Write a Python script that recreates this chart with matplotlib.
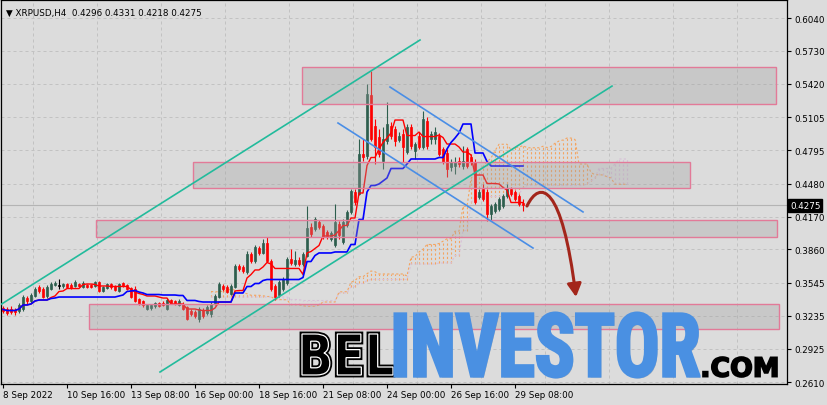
import matplotlib
matplotlib.use("Agg")
import matplotlib.pyplot as plt
import matplotlib.patheffects as pe
import numpy as np
import pandas as pd
from matplotlib.font_manager import FontProperties, findfont
from matplotlib.patches import FancyArrowPatch, PathPatch, Rectangle
from matplotlib.path import Path
from matplotlib.textpath import TextPath
from matplotlib.transforms import Affine2D, IdentityTransform, blended_transform_factory

W, H = 828, 406

symbol = "XRPUSD,H4"

# H4 bars from 8 Sep 2022 00:00
opens = [
    0.3308, 0.3299, 0.3299, 0.3289, 0.3280, 0.3299, 0.3402, 0.3374, 0.3421, 0.3506,
    0.3487, 0.3421, 0.3487, 0.3525, 0.3520, 0.3515, 0.3534, 0.3525, 0.3515, 0.3534,
    0.3506, 0.3525, 0.3525, 0.3515, 0.3553, 0.3468, 0.3497, 0.3534, 0.3515, 0.3468,
    0.3544, 0.3525, 0.3497, 0.3487, 0.3393, 0.3374, 0.3299, 0.3308, 0.3327, 0.3355,
    0.3355, 0.3299, 0.3384, 0.3374, 0.3336, 0.3346, 0.3318, 0.3280, 0.3271, 0.3205,
    0.3289, 0.3261, 0.3252, 0.3346, 0.3412, 0.3515, 0.3506, 0.3440, 0.3506, 0.3704,
    0.3694, 0.3647, 0.3817, 0.3751, 0.3873, 0.3826, 0.3921, 0.3751, 0.3515, 0.3431,
    0.3487, 0.3544, 0.3770, 0.3723, 0.3760, 0.3723, 0.3798, 0.4071, 0.4053, 0.4118,
    0.4081, 0.4024, 0.3958, 0.3902, 0.4100, 0.3930, 0.4090, 0.4213, 0.4401, 0.4382,
    0.4759, 0.4740, 0.5315, 0.5023, 0.4919, 0.4693, 0.4881, 0.5023, 0.4994, 0.4891,
    0.4947, 0.4778, 0.5013, 0.4787, 0.4928, 0.4825, 0.5070, 0.4900, 0.4900, 0.4928,
    0.4806, 0.4768, 0.4636, 0.4646, 0.4693, 0.4646, 0.4806, 0.4731, 0.4683, 0.4354,
    0.4429, 0.4401, 0.4194, 0.4222, 0.4241, 0.4269, 0.4363, 0.4429, 0.4401, 0.4363,
    0.4296,
]
highs = [
    0.3327, 0.3318, 0.3327, 0.3308, 0.3355, 0.3431, 0.3421, 0.3450, 0.3506, 0.3525,
    0.3506, 0.3525, 0.3553, 0.3563, 0.3581, 0.3544, 0.3544, 0.3544, 0.3572, 0.3544,
    0.3563, 0.3534, 0.3534, 0.3563, 0.3563, 0.3515, 0.3544, 0.3544, 0.3525, 0.3544,
    0.3553, 0.3534, 0.3506, 0.3515, 0.3402, 0.3384, 0.3346, 0.3346, 0.3365, 0.3365,
    0.3374, 0.3402, 0.3393, 0.3384, 0.3393, 0.3365, 0.3327, 0.3299, 0.3289, 0.3318,
    0.3308, 0.3336, 0.3365, 0.3440, 0.3553, 0.3534, 0.3525, 0.3534, 0.3723, 0.3723,
    0.3713, 0.3845, 0.3836, 0.3902, 0.3892, 0.3958, 0.3977, 0.3770, 0.3534, 0.3572,
    0.3600, 0.3789, 0.3864, 0.3845, 0.3789, 0.3836, 0.4269, 0.4109, 0.4165, 0.4137,
    0.4100, 0.4043, 0.4034, 0.4288, 0.4128, 0.4147, 0.4231, 0.4429, 0.4429, 0.4900,
    0.4900, 0.5418, 0.5541, 0.5089, 0.4994, 0.5013, 0.5249, 0.5060, 0.5023, 0.4966,
    0.4994, 0.5041, 0.5041, 0.4872, 0.4966, 0.5164, 0.5108, 0.4975, 0.5013, 0.4957,
    0.4825, 0.4806, 0.4712, 0.4731, 0.4731, 0.4834, 0.4825, 0.4759, 0.4712, 0.4429,
    0.4476, 0.4429, 0.4288, 0.4307, 0.4354, 0.4382, 0.4476, 0.4448, 0.4420, 0.4382,
    0.4331,
]
lows = [
    0.3261, 0.3242, 0.3252, 0.3242, 0.3261, 0.3280, 0.3346, 0.3355, 0.3412, 0.3450,
    0.3402, 0.3402, 0.3478, 0.3515, 0.3487, 0.3497, 0.3497, 0.3487, 0.3506, 0.3506,
    0.3497, 0.3497, 0.3497, 0.3506, 0.3459, 0.3459, 0.3487, 0.3487, 0.3468, 0.3459,
    0.3506, 0.3478, 0.3402, 0.3365, 0.3336, 0.3318, 0.3289, 0.3289, 0.3308, 0.3318,
    0.3327, 0.3289, 0.3346, 0.3336, 0.3327, 0.3289, 0.3195, 0.3233, 0.3214, 0.3176,
    0.3214, 0.3242, 0.3223, 0.3336, 0.3402, 0.3468, 0.3450, 0.3431, 0.3497, 0.3657,
    0.3638, 0.3629, 0.3732, 0.3732, 0.3807, 0.3817, 0.3742, 0.3468, 0.3384, 0.3412,
    0.3468, 0.3525, 0.3713, 0.3704, 0.3704, 0.3704, 0.3789, 0.3977, 0.4034, 0.4053,
    0.3958, 0.3958, 0.3939, 0.3883, 0.3958, 0.3911, 0.4071, 0.4194, 0.4278, 0.4373,
    0.4693, 0.4712, 0.4881, 0.4665, 0.4731, 0.4617, 0.4853, 0.4900, 0.4834, 0.4872,
    0.4683, 0.4759, 0.4806, 0.4712, 0.4806, 0.4806, 0.4806, 0.4853, 0.4853, 0.4740,
    0.4665, 0.4542, 0.4599, 0.4570, 0.4636, 0.4617, 0.4627, 0.4655, 0.4288, 0.4335,
    0.4316, 0.4128, 0.4128, 0.4203, 0.4222, 0.4250, 0.4344, 0.4363, 0.4316, 0.4269,
    0.4218,
]
closes = [
    0.3280, 0.3261, 0.3271, 0.3271, 0.3336, 0.3412, 0.3374, 0.3431, 0.3487, 0.3468,
    0.3412, 0.3506, 0.3534, 0.3544, 0.3520, 0.3534, 0.3506, 0.3497, 0.3553, 0.3515,
    0.3544, 0.3506, 0.3506, 0.3553, 0.3468, 0.3506, 0.3534, 0.3506, 0.3478, 0.3534,
    0.3515, 0.3487, 0.3412, 0.3374, 0.3346, 0.3336, 0.3336, 0.3336, 0.3355, 0.3327,
    0.3336, 0.3384, 0.3355, 0.3346, 0.3374, 0.3299, 0.3205, 0.3252, 0.3233, 0.3299,
    0.3233, 0.3318, 0.3346, 0.3421, 0.3534, 0.3487, 0.3459, 0.3515, 0.3704, 0.3676,
    0.3657, 0.3817, 0.3751, 0.3883, 0.3826, 0.3921, 0.3751, 0.3487, 0.3412, 0.3553,
    0.3581, 0.3770, 0.3732, 0.3760, 0.3723, 0.3817, 0.4062, 0.4005, 0.4147, 0.4071,
    0.3977, 0.3987, 0.4015, 0.4118, 0.3996, 0.4118, 0.4213, 0.4410, 0.4307, 0.4759,
    0.4731, 0.5324, 0.4900, 0.4825, 0.4759, 0.4900, 0.5041, 0.4928, 0.4881, 0.4928,
    0.4825, 0.5013, 0.4834, 0.4853, 0.4825, 0.5089, 0.4834, 0.4947, 0.4966, 0.4759,
    0.4683, 0.4617, 0.4683, 0.4683, 0.4665, 0.4693, 0.4646, 0.4683, 0.4307, 0.4401,
    0.4335, 0.4194, 0.4269, 0.4288, 0.4335, 0.4363, 0.4439, 0.4382, 0.4335, 0.4288,
    0.4275,
]

date_bars = [0, 16, 32, 48, 64, 80, 96, 112, 128]
date_labels = ["8 Sep 2022", "10 Sep 16:00", "13 Sep 08:00", "16 Sep 00:00",
               "18 Sep 16:00", "21 Sep 08:00", "24 Sep 00:00", "26 Sep 16:00",
               "29 Sep 08:00"]
price_ticks = [0.6040, 0.5730, 0.5420, 0.5105, 0.4795, 0.4480,
               0.4170, 0.3860, 0.3545, 0.3235, 0.2925, 0.2610]

# supply / demand zones (bar index span, price span)
zone_start = [74.75, 47.5, 23.25, 21.5]
zone_end = [193.25, 171.75, 193.5, 194.0]
zone_top = [0.5578, 0.4684, 0.4137, 0.3346]
zone_bottom = [0.5230, 0.4439, 0.3977, 0.3110]

# hand-drawn trend lines: (bar, price) end points
rising_x = [[-0.75, 104.25], [39.25, 152.25]]
rising_y = [[0.3336, 0.5833], [0.2705, 0.5399]]
falling_x = [[96.75, 145.0], [83.75, 132.5]]
falling_y = [[0.5390, 0.4213], [0.5051, 0.3873]]

BG = "#dcdcdc"
GREEN = "#2d5e4d"
RED = "#ff0000"
FONT = 6.3

fig = plt.figure(figsize=(W / 100, H / 100), dpi=100, facecolor=BG)
ax = fig.add_axes([1 / W, 1 - 385 / H, 786 / W, 384 / H], facecolor=BG)

o = np.array(opens)
h = np.array(highs)
l = np.array(lows)
c = np.array(closes)
idx = np.arange(len(c))

ax.set_xlim(-0.5, 196)
ax.set_ylim(0.2592, 0.6210)

# grid
for gx in np.arange(7.5, 196, 16):
    ax.axvline(gx, color="#c2c2c2", lw=0.72, ls=(0, (3, 3)), zorder=0)
for gy in price_ticks:
    ax.axhline(gy, color="#c2c2c2", lw=0.72, ls=(0, (3, 3)), zorder=0)

# ichimoku
hs, ls_ = pd.Series(h), pd.Series(l)
tenkan = (hs.rolling(9, min_periods=1).max() + ls_.rolling(9, min_periods=1).min()) / 2
kijun = (hs.rolling(26, min_periods=1).max() + ls_.rolling(26, min_periods=1).min()) / 2
span_a = ((tenkan + kijun) / 2).to_numpy()[26:]
span_b = ((hs.rolling(52, min_periods=1).max() + ls_.rolling(52, min_periods=1).min()) / 2).to_numpy()[26:]
cloud_x = np.arange(len(c))[26:] + 26
cloud_cols = np.where(span_a >= span_b, "#f4a460", "#d8bfd8")
ax.vlines(cloud_x, np.minimum(span_a, span_b), np.maximum(span_a, span_b),
          colors=cloud_cols, lw=0.8, linestyles=(0, (2, 2)), zorder=1)
ax.plot(cloud_x, span_a, color="#f4a460", lw=0.8, ls=(0, (2, 2)), zorder=1)
ax.plot(cloud_x, span_b, color="#d8bfd8", lw=0.8, ls=(0, (2, 2)), zorder=1)

# bid line
ax.axhline(c[-1], color="#b4b4b4", lw=0.8, zorder=1.5)

# candles
cols = np.where(c > o, GREEN, np.where(c < o, RED, "black"))
ax.vlines(idx, l, h, colors=cols, lw=0.8, zorder=3)
ax.bar(idx, np.maximum(np.abs(c - o), 0.0007), 0.55, bottom=np.minimum(o, c),
       color=cols, edgecolor=cols, lw=0.5, zorder=3)

ax.plot(idx, tenkan, color="#ff0000", lw=1.0, zorder=4)
ax.plot(idx, kijun, color="#0000ff", lw=1.2, zorder=4)

# zones
for x0, x1, top, bot in zip(zone_start, zone_end, zone_top, zone_bottom):
    ax.add_patch(Rectangle((x0, bot), x1 - x0, top - bot, facecolor="#a0a0a0",
                           alpha=0.33, edgecolor="none", zorder=5))
    ax.add_patch(Rectangle((x0, bot), x1 - x0, top - bot, facecolor="none",
                           edgecolor="#e27a98", lw=1.0, zorder=5))

for xs, ys in zip(rising_x, rising_y):
    ax.plot(xs, ys, color="#22bb9c", lw=1.2, zorder=6)
for xs, ys in zip(falling_x, falling_y):
    ax.plot(xs, ys, color="#4a8ee6", lw=1.2, zorder=6)

# projected move arrow
arrow_path = Path([(131.0, 0.4269), (134.25, 0.4523), (139.75, 0.4476), (143.25, 0.3412)],
                  [Path.MOVETO, Path.CURVE4, Path.CURVE4, Path.CURVE4])
ax.add_patch(FancyArrowPatch(path=arrow_path, arrowstyle="-|>,head_length=0.55,head_width=0.3",
                             mutation_scale=14, color="#a3261b", lw=2.2, zorder=7))

# axes styling
for sp in ax.spines.values():
    sp.set_color("black")
    sp.set_linewidth(0.9)
ax.yaxis.tick_right()
ax.set_yticks(price_ticks, [f"{v:.4f}" for v in price_ticks])
ax.set_xticks(date_bars, date_labels, ha="left")
ax.tick_params(axis="y", length=3, pad=2, labelsize=FONT, width=0.8)
ax.tick_params(axis="x", length=3, pad=1.5, labelsize=FONT, width=0.8)

# current price label
ax.text(1.004, c[-1], f"{c[-1]:.4f}", transform=blended_transform_factory(ax.transAxes, ax.transData),
        color="white", fontsize=FONT, va="center", ha="left", clip_on=False,
        bbox=dict(boxstyle="square,pad=0.2", facecolor="black", edgecolor="black"))

fig.text(6 / W, 1 - 13 / H,
         f"\u25bc {symbol}  {o[-1]:.4f} {h[-1]:.4f} {l[-1]:.4f} {c[-1]:.4f}",
         fontsize=FONT, va="center", ha="left", color="black")


# watermark
def pick_font(names, weight):
    for name in names:
        prop = FontProperties(family=name, weight=weight)
        try:
            findfont(prop, fallback_to_default=False)
            return prop
        except ValueError:
            continue
    return FontProperties(family="DejaVu Sans", weight=weight)


def word(text, left, top, right, bottom, prop, color, effects):
    tp = TextPath((0, 0), text, size=100, prop=prop)
    ext = tp.get_extents()
    tr = (Affine2D().translate(-ext.x0, -ext.y0)
          .scale((right - left) / ext.width, (bottom - top) / ext.height)
          .translate(left, H - bottom))
    patch = PathPatch(tr.transform_path(tp), transform=IdentityTransform(),
                      facecolor=color, edgecolor="none", zorder=20)
    patch.set_path_effects(effects)
    fig.add_artist(patch)


narrow = pick_font(["Liberation Sans Narrow", "Roboto Condensed", "Open Sans Condensed",
                    "Liberation Sans"], "bold")
heavy = pick_font(["DejaVu Sans"], "bold")

word("BEL", 302, 335, 393, 376, heavy, "black",
     [pe.Stroke(linewidth=3.5, foreground="black"), pe.Stroke(linewidth=0.9, foreground="white")])
word("INVESTOR", 395, 314, 699, 378, narrow, "#4a90e2",
     [pe.SimplePatchShadow(offset=(1, -1), alpha=0.25),
      pe.Stroke(linewidth=2.2, foreground="#4a90e2")])
word(".COM", 703, 358, 777, 378, heavy, "black",
     [pe.Stroke(linewidth=1.2, foreground="black")])

fig.savefig("out.png", dpi=100, facecolor=BG)
